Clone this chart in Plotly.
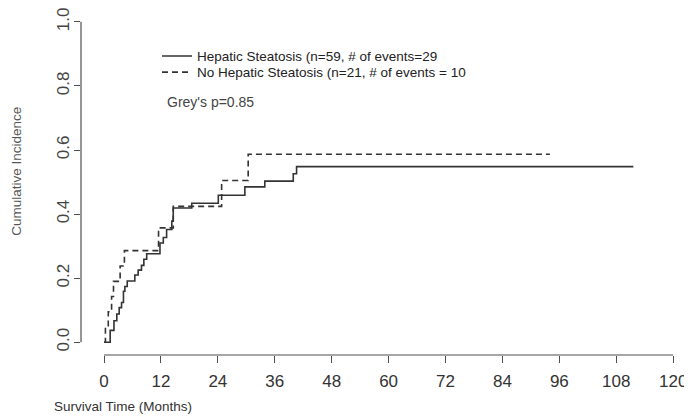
import plotly.graph_objects as go

# ---- data ----
solid_t = [0, 1.3, 2.1, 2.7, 3.2, 3.7, 4.1, 4.4, 4.9, 6.5, 7.2, 7.9, 8.4, 9.0,
           11.8, 12.5, 13.2, 14.3, 14.6, 18.5, 24.1, 29.7, 33.9, 39.9, 40.6, 111.6]
solid_v = [0, 0.037, 0.067, 0.088, 0.108, 0.124, 0.159, 0.174, 0.191, 0.21, 0.225, 0.24, 0.259, 0.276,
           0.31, 0.327, 0.352, 0.378, 0.419, 0.434, 0.459, 0.485, 0.503, 0.526, 0.548, 0.548]

dash_t = [0, 0.3, 0.9, 1.6, 2.0, 3.4, 4.3, 11.5, 14.6, 24.8, 30.4, 94.0]
dash_v = [0, 0.048, 0.095, 0.143, 0.19, 0.238, 0.286, 0.357, 0.424, 0.505, 0.587, 0.587]

x_ticks = [0, 12, 24, 36, 48, 60, 72, 84, 96, 108, 120]
y_ticks = [0.0, 0.2, 0.4, 0.6, 0.8, 1.0]
y_tick_labels = ["0.0", "0.2", "0.4", "0.6", "0.8", "1.0"]

name_solid = "Hepatic Steatosis (n=59, # of events=29"
name_dash = "No Hepatic Steatosis (n=21, # of events = 10"
p_text = "Grey's p=0.85"
x_title = "Survival Time (Months)"
y_title = "Cumulative Incidence"

FONT = "Liberation Sans, Arial, sans-serif"
INK = "#333333"
AX = "#505050"

# page body has an 8px margin: the figure is sized/offset so that window pixels line up
OFF = 8
W, H = 692 - OFF, 419 - OFF
L, R, T, B = 81 - OFF, 0, 0, 64
PW, PH = W - L - R, H - T - B


def px_x(wx):
    return (wx - OFF - L) / PW


def px_y(wy):
    return (H - B - (wy - OFF)) / PH


fig = go.Figure()
fig.add_trace(go.Scatter(x=solid_t, y=solid_v, mode="lines", name=name_solid, legend="legend",
                         line=dict(shape="hv", color=INK, width=1.6)))
fig.add_trace(go.Scatter(x=dash_t, y=dash_v, mode="lines", name=name_dash, legend="legend2",
                         line=dict(shape="hv", color=INK, width=1.6, dash="6px,4px")))

leg_common = dict(xanchor="left", yanchor="middle", bgcolor="rgba(0,0,0,0)", borderwidth=0,
                  itemwidth=30, font=dict(family=FONT, size=13.5, color="#222"))

fig.update_layout(
    width=W, height=H,
    margin=dict(l=L, r=R, t=T, b=B, pad=0),
    paper_bgcolor="white", plot_bgcolor="white",
    showlegend=True,
    legend=dict(x=px_x(157), y=px_y(50), **leg_common),
    legend2=dict(x=px_x(157), y=px_y(66.5), **leg_common),
    xaxis=dict(range=[-4.849, 123.97], tickmode="array", tickvals=x_ticks,
               ticktext=[str(v) for v in x_ticks],
               ticks="outside", ticklen=7, tickwidth=1, tickcolor=AX,
               showline=False, zeroline=False, showgrid=False,
               ticklabeloverflow="allow", ticklabelstandoff=4,
               tickfont=dict(family=FONT, size=17, color=INK)),
    yaxis=dict(range=[-0.0398, 1.0214], tickmode="array", tickvals=y_ticks,
               ticktext=y_tick_labels, tickangle=-90,
               ticks="outside", ticklen=6, tickwidth=1, tickcolor=AX,
               showline=False, zeroline=False, showgrid=False,
               ticklabeloverflow="allow", ticklabelstandoff=-2,
               tickfont=dict(family=FONT, size=17, color="#444")),
)

# detached R-style axis lines spanning the tick range
fig.add_shape(type="line", xref="x", yref="paper", x0=x_ticks[0], x1=x_ticks[-1], y0=0, y1=0,
              line=dict(color=AX, width=1.2))
fig.add_shape(type="line", xref="paper", yref="y", x0=0, x1=0, y0=y_ticks[0], y1=y_ticks[-1],
              line=dict(color=AX, width=1.2))

fig.add_annotation(text=x_title, xref="paper", yref="paper",
                   x=px_x(122.5), y=px_y(408), xanchor="center", yanchor="middle",
                   showarrow=False, font=dict(family=FONT, size=13.5, color=INK))
fig.add_annotation(text=y_title, xref="paper", yref="paper", textangle=-90,
                   x=px_x(17), y=px_y(168), xanchor="center", yanchor="middle",
                   borderpad=0, showarrow=False, font=dict(family=FONT, size=13.5, color="#555"))
fig.add_annotation(text=p_text, xref="paper", yref="paper",
                   x=px_x(165), y=px_y(97), xanchor="left", yanchor="middle",
                   showarrow=False, font=dict(family=FONT, size=14, color="#444"))

fig.write_html("out.html")
